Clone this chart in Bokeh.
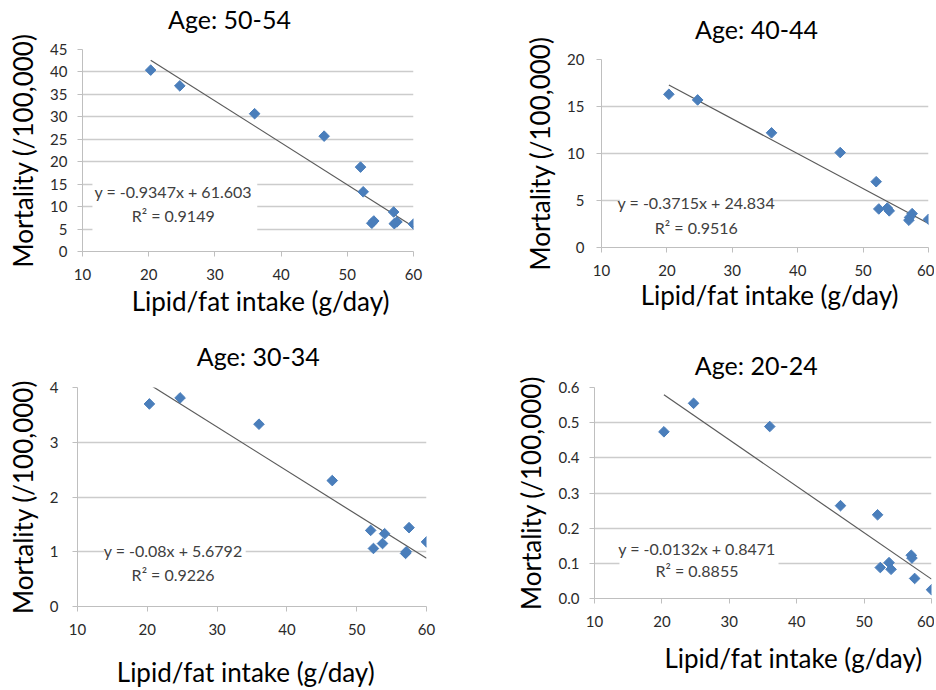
import numpy as np
from bokeh.plotting import figure
from bokeh.layouts import column, row
from bokeh.models import (Range1d, FixedTicker, Label, BoxAnnotation, LinearAxis,
                          PrintfTickFormatter, CustomJSTickFormatter, ColumnDataSource)
from bokeh.embed import file_html
from bokeh.resources import INLINE

# ---------------- data ----------------
fat_intake = [20.3, 24.7, 36.0, 46.5, 52.0, 52.4, 53.7, 54.0, 57.0, 57.1, 57.5, 60.0]

mort_50_54 = [40.4, 36.9, 30.7, 25.7, 18.8, 13.3, 6.3, 6.8, 8.8, 6.2, 6.6, 6.1]
mort_40_44 = [16.3, 15.7, 12.2, 10.1, 7.0, 4.1, 4.2, 3.9, 2.9, 3.2, 3.6, 3.0]
mort_30_34 = [3.70, 3.81, 3.33, 2.30, 1.39, 1.06, 1.15, 1.33, 0.97, 1.00, 1.44, 1.18]
mort_20_24 = [0.474, 0.555, 0.489, 0.264, 0.238, 0.088, 0.102, 0.083, 0.123, 0.115, 0.057, 0.025]

age_groups = ["Age: 50-54", "Age: 40-44", "Age: 30-34", "Age: 20-24"]
slopes = [-0.9347, -0.3715, -0.08, -0.0132]
intercepts = [61.603, 24.834, 5.6792, 0.8471]
r_squared = ["0.9149", "0.9516", "0.9226", "0.8855"]
eq_labels = ["y = -0.9347x + 61.603", "y = -0.3715x + 24.834",
             "y = -0.08x + 5.6792", "y = -0.0132x + 0.8471"]

x_label = "Lipid/fat intake (g/day)"
y_label = "Mortality (/100,000)"
x_ticks = [10, 20, 30, 40, 50, 60]
y_ticks_50_54 = [0, 5, 10, 15, 20, 25, 30, 35, 40, 45]
y_ticks_40_44 = [0, 5, 10, 15, 20]
y_ticks_30_34 = [0, 1, 2, 3, 4]
y_ticks_20_24 = [0.0, 0.1, 0.2, 0.3, 0.4, 0.5, 0.6]

# ---------------- style ----------------
FONT = "Lato"
MARKER = "#4A7EBB"
GRID = "#CCCCCC"
AXIS = "#BFBFBF"
TICK_TXT = "#2A2A2A"

panels = [
    dict(y=mort_50_54, yt=y_ticks_50_54, fmt="%d", w=466, h=335,
         mb=(48, 53, 84, 82), ylab_so=8, ytick_so=10,
         title_x=32.2, title_so=16, xlab_x=36.9, xlab_so=2,
         box=(11.5, 36.4, 16.2, 4.2), t1=(23.7, 13.3), t2=(23.7, 8.0)),
    dict(y=mort_40_44, yt=y_ticks_40_44, fmt="%d", w=468, h=335,
         mb=(59, 6, 88, 135), ylab_so=8, ytick_so=12,
         title_x=33.7, title_so=16, xlab_x=35.7, xlab_so=0,
         box=(12.8, 36.0, 6.1, 0.75), t1=(24.5, 4.8), t2=(24.5, 2.13)),
    dict(y=mort_30_34, yt=y_ticks_30_34, fmt="%d", w=466, h=355,
         mb=(52, 40, 83, 77), ylab_so=8, ytick_so=14,
         title_x=35.9, title_so=17, xlab_x=34.1, xlab_so=18,
         box=(13.8, 34.1, 1.25, 0.39), t1=(23.7, 1.03), t2=(23.7, 0.59)),
    dict(y=mort_20_24, yt=y_ticks_20_24, fmt="%.1f", w=468, h=355,
         mb=(52, 3, 92, 128), ylab_so=9, ytick_so=10,
         title_x=34.0, title_so=8, xlab_x=39.5, xlab_so=12,
         box=(13.7, 37.3, 0.178, 0.045), t1=(25.2, 0.141), t2=(25.2, 0.079)),
]


def caption_axis(pos_x, text, size, standoff):
    """An axis carrying one text at a chosen x position (title / caption)."""
    ax = LinearAxis(ticker=FixedTicker(ticks=[pos_x]),
                    formatter=CustomJSTickFormatter(args=dict(label=text), code="return label;"))
    ax.axis_line_color = None
    ax.major_tick_line_color = None
    ax.minor_tick_line_color = None
    ax.major_tick_out = 0
    ax.major_tick_in = 0
    ax.major_label_standoff = standoff
    ax.major_label_text_font = FONT
    ax.major_label_text_font_size = size
    ax.major_label_text_color = "black"
    return ax


figs = []
for i, cfg in enumerate(panels):
    ys = cfg["y"]
    p = figure(width=cfg["w"], height=cfg["h"], output_backend="svg",
               toolbar_location=None, x_range=Range1d(10, 60),
               y_range=Range1d(cfg["yt"][0], cfg["yt"][-1]),
               min_border_top=cfg["mb"][0], min_border_right=cfg["mb"][1],
               min_border_bottom=cfg["mb"][2], min_border_left=cfg["mb"][3])
    p.outline_line_color = None
    p.background_fill_color = "white"
    p.border_fill_color = "white"

    # axes
    for ax in (p.xaxis[0], p.yaxis[0]):
        ax.axis_line_color = AXIS
        ax.major_tick_line_color = AXIS
        ax.major_tick_out = 5
        ax.major_tick_in = 0
        ax.minor_tick_line_color = None
        ax.major_label_text_font = FONT
        ax.major_label_text_font_size = "15px"
        ax.major_label_text_color = TICK_TXT
    p.xaxis.ticker = FixedTicker(ticks=x_ticks)
    p.xaxis.major_label_standoff = 12
    p.yaxis.ticker = FixedTicker(ticks=cfg["yt"])
    p.yaxis.formatter = PrintfTickFormatter(format=cfg["fmt"])
    p.yaxis.major_label_standoff = cfg["ytick_so"]
    p.yaxis.axis_label = y_label
    p.yaxis.axis_label_text_font = FONT
    p.yaxis.axis_label_text_font_size = "26px"
    p.yaxis.axis_label_text_font_style = "normal"
    p.yaxis.axis_label_text_color = "black"
    p.yaxis.axis_label_standoff = cfg["ylab_so"]

    # panel title (above) and x caption (below), placed at chosen x positions
    p.add_layout(caption_axis(cfg["title_x"], age_groups[i], "25px", cfg["title_so"]), "above")
    p.add_layout(caption_axis(cfg["xlab_x"], x_label, "26px", cfg["xlab_so"]), "below")

    # grid
    p.xgrid.grid_line_color = None
    p.ygrid.ticker = FixedTicker(ticks=cfg["yt"])
    p.ygrid.grid_line_color = GRID
    p.ygrid.grid_line_width = 1.3

    # trend line from the fitted equation
    xfit = np.array([min(fat_intake), max(fat_intake)])
    yfit = slopes[i] * xfit + intercepts[i]
    p.line(xfit, yfit, line_color="#5A5A5A", line_width=1.2)

    # markers
    src = ColumnDataSource(dict(x=fat_intake, y=ys))
    p.scatter("x", "y", source=src, marker="square", angle=np.pi / 4, size=7.5,
              fill_color=MARKER, line_color=MARKER)

    # equation box
    bx = cfg["box"]
    p.add_layout(BoxAnnotation(left=bx[0], right=bx[1], top=bx[2], bottom=bx[3],
                               fill_color="white", fill_alpha=1.0, line_color=None,
                               level="glyph"))
    for txt, pos in ((eq_labels[i], cfg["t1"]), ("R\u00b2 = " + r_squared[i], cfg["t2"])):
        p.add_layout(Label(x=pos[0], y=pos[1], text=txt, text_align="center",
                           text_baseline="middle", text_font=FONT,
                           text_font_size="16px", text_color="#404040"))
    figs.append(p)

layout = column(row(column(figs[0]), column(figs[1])),
                row(column(figs[2]), column(figs[3])))
open("out.html", "w").write(file_html(layout, INLINE))
